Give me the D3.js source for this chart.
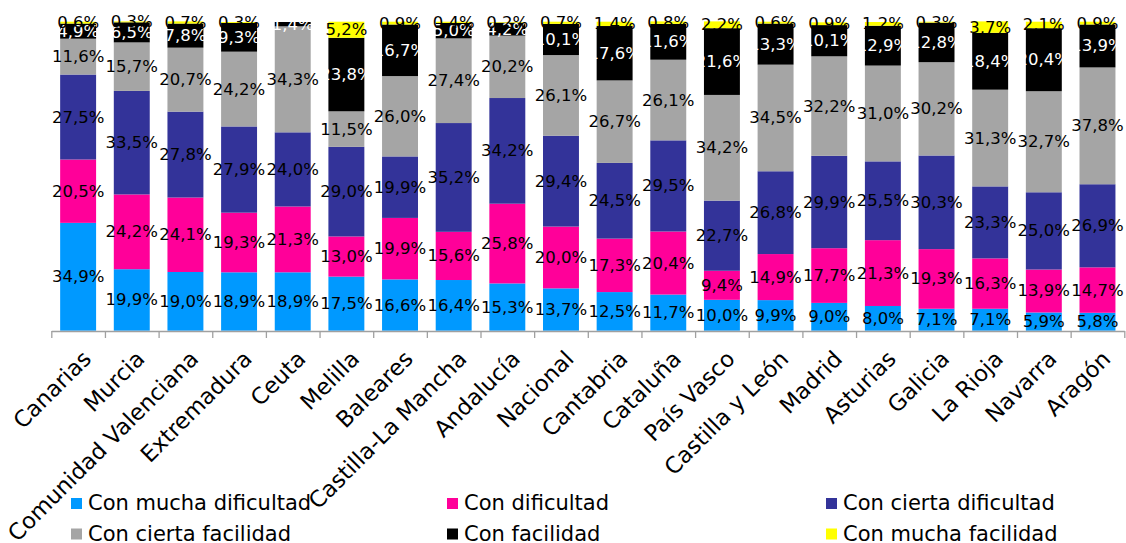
<!DOCTYPE html>
<html>
<head>
<meta charset="utf-8">
<script src="https://cdn.jsdelivr.net/npm/d3@7"></script>
<style>
  html, body { margin: 0; padding: 0; background: #fff; }
  svg { display: block; font-family: "DejaVu Sans", Verdana, sans-serif; }
</style>
</head>
<body>
<svg id="chart" width="1126" height="543"></svg>
<script>
const categories = ["Canarias","Murcia","Comunidad Valenciana","Extremadura","Ceuta","Melilla","Baleares","Castilla-La Mancha","Andalucía","Nacional","Cantabria","Cataluña","País Vasco","Castilla y León","Madrid","Asturias","Galicia","La Rioja","Navarra","Aragón"];
const seriesNames = ["Con mucha dificultad","Con dificultad","Con cierta dificultad","Con cierta facilidad","Con facilidad","Con mucha facilidad"];
const muchaDificultad  = [34.9,19.9,19.0,18.9,18.9,17.5,16.6,16.4,15.3,13.7,12.5,11.7,10.0, 9.9, 9.0, 8.0, 7.1, 7.1, 5.9, 5.8];
const dificultad       = [20.5,24.2,24.1,19.3,21.3,13.0,19.9,15.6,25.8,20.0,17.3,20.4, 9.4,14.9,17.7,21.3,19.3,16.3,13.9,14.7];
const ciertaDificultad = [27.5,33.5,27.8,27.9,24.0,29.0,19.9,35.2,34.2,29.4,24.5,29.5,22.7,26.8,29.9,25.5,30.3,23.3,25.0,26.9];
const ciertaFacilidad  = [11.6,15.7,20.7,24.2,34.3,11.5,26.0,27.4,20.2,26.1,26.7,26.1,34.2,34.5,32.2,31.0,30.2,31.3,32.7,37.8];
const facilidad        = [ 4.9, 6.5, 7.8, 9.3, 1.4,23.8,16.7, 5.0, 4.2,10.1,17.6,11.6,21.6,13.3,10.1,12.9,12.8,18.4,20.4,13.9];
const muchaFacilidad   = [ 0.6, 0.3, 0.7, 0.3, 0.0, 5.2, 0.9, 0.4, 0.2, 0.7, 1.4, 0.8, 2.2, 0.6, 0.9, 1.2, 0.3, 3.7, 2.1, 0.9];

const seriesValues = [muchaDificultad, dificultad, ciertaDificultad, ciertaFacilidad, facilidad, muchaFacilidad];
const colors = ["#0099FF","#FF0099","#333399","#A5A5A5","#000000","#FFFF00"];
const labelColors = ["#000","#000","#000","#000","#fff","#000"];

const rows = categories.map((c, i) => {
  const o = {cat: c};
  seriesNames.forEach((s, j) => o[s] = seriesValues[j][i]);
  return o;
});

const svg = d3.select("#chart");
const x = d3.scaleBand().domain(categories).range([51.3, 1124.3]).paddingInner(0.33).paddingOuter(0.165);
const y = d3.scaleLinear().domain([0, 100]).range([330.7, 21.7]);

const stacked = d3.stack().keys(seriesNames)(rows);
const fmt = v => d3.format(".1f")(v).replace(".", ",") + "%";

const gBars = svg.append("g");
stacked.forEach((layer, j) => {
  gBars.append("g").attr("fill", colors[j])
    .selectAll("rect").data(layer).join("rect")
    .attr("x", d => x(d.data.cat))
    .attr("width", x.bandwidth())
    .attr("y", d => y(d[1]))
    .attr("height", d => Math.max(0, y(d[0]) - y(d[1])));
});

// axis (ticks at category boundaries)
const tickScale = d3.scaleLinear().domain([0, categories.length]).range([51.3, 1124.3]);
const axisG = svg.append("g").attr("transform", "translate(0,331)")
  .call(d3.axisBottom(tickScale).tickValues(d3.range(categories.length + 1)).tickSize(7).tickSizeOuter(0).tickFormat(""));
axisG.select(".domain").attr("stroke", "#A0A0A0").attr("stroke-width", 1.3);
axisG.selectAll(".tick line").attr("stroke", "#A0A0A0").attr("stroke-width", 1.3);

// data labels
const gLabels = svg.append("g").attr("font-size", "16.5px");
stacked.forEach((layer, j) => {
  gLabels.append("g").attr("fill", labelColors[j])
    .selectAll("text").data(layer.filter(d => (d[1] - d[0]) > 0)).join("text")
    .attr("x", d => x(d.data.cat) + x.bandwidth() / 2)
    .attr("y", d => (y(d[0]) + y(d[1])) / 2)
    .attr("text-anchor", "middle")
    .attr("dominant-baseline", "central")
    .text(d => fmt(d.data[seriesNames[j]]));
});

// category labels
svg.append("g").attr("font-size", "22.5px").attr("fill", "#000")
  .selectAll("text").data(categories).join("text")
  .attr("transform", d => `translate(${x(d) + x.bandwidth() / 2 + 3},349) rotate(-45)`)
  .attr("text-anchor", "end")
  .attr("dy", "0.71em")
  .text(d => d);

// legend
const legX = [71, 447, 826];
const legY = [510, 540.5];
const leg = svg.append("g").attr("font-size", "21px");
seriesNames.forEach((s, j) => {
  const cx = legX[j % 3], by = legY[Math.floor(j / 3)];
  leg.append("rect").attr("x", cx).attr("y", by - 12).attr("width", 11).attr("height", 11).attr("fill", colors[j]);
  leg.append("text").attr("x", cx + 17).attr("y", by).attr("fill", "#000").text(s);
});
</script>
</body>
</html>
